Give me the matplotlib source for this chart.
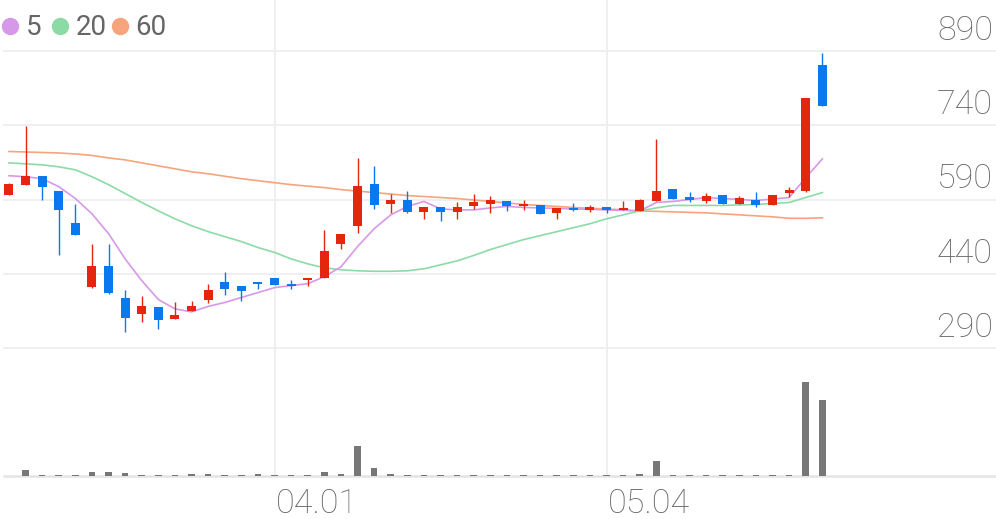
import numpy as np
import matplotlib
matplotlib.use("Agg")
import matplotlib.pyplot as plt
from matplotlib.lines import Line2D

plt.rcParams['font.family'] = ['Roboto', 'DejaVu Sans']

# daily candles, oldest first
opens = [600, 620, 637, 608, 543, 414, 456, 391, 359, 373,
         349, 365, 387, 424, 416, 424, 432, 420, 428, 432,
         501, 537, 622, 580, 590, 564, 574, 564, 576, 580,
         586, 576, 578, 562, 572, 568, 574, 568, 566, 586,
         612, 596, 586, 600, 580, 590, 578, 604, 608, 862]
highs = [623, 738, 637, 608, 580, 501, 501, 408, 395, 373,
         383, 385, 420, 444, 416, 424, 432, 428, 432, 529,
         521, 673, 657, 602, 608, 574, 574, 584, 602, 598,
         586, 588, 578, 572, 582, 578, 574, 586, 592, 712,
         612, 606, 604, 600, 598, 606, 600, 616, 795, 886]
lows = [599, 620, 590, 478, 519, 412, 399, 322, 343, 329,
        349, 365, 381, 397, 385, 410, 418, 410, 416, 432,
        491, 523, 570, 562, 562, 551, 547, 551, 570, 562,
        566, 568, 560, 551, 566, 564, 562, 568, 566, 586,
        592, 584, 582, 580, 580, 574, 578, 596, 606, 779]
closes = [622, 637, 616, 568, 519, 456, 401, 351, 375, 347,
          357, 375, 408, 410, 406, 420, 418, 416, 432, 485,
          521, 618, 578, 590, 564, 574, 564, 574, 584, 588,
          576, 580, 560, 572, 568, 574, 568, 572, 588, 608,
          592, 588, 598, 580, 594, 578, 600, 610, 795, 779]
volumes = [0, 60, 10, 10, 15, 43, 40, 33, 10, 10,
           10, 20, 20, 15, 10, 20, 10, 10, 10, 43,
           20, 300, 83, 20, 10, 10, 15, 10, 10, 10,
           10, 10, 10, 10, 10, 10, 10, 10, 20, 150,
           15, 10, 10, 10, 10, 10, 10, 10, 940, 760]

ma5 = [638, 636, 632, 616, 592, 561, 521, 470, 426, 388,
       369, 363, 374, 382, 392, 402, 412, 416, 420, 434,
       454, 495, 531, 559, 576, 586, 571, 569, 569, 573,
       576, 574, 573, 572, 571, 570, 569, 568, 567, 584,
       586, 590, 594, 592, 590, 588, 591, 594, 634, 672]
ma20 = [664, 662, 660, 656, 650, 636, 620, 602, 584, 567,
        551, 537, 525, 515, 505, 493, 483, 470, 460, 452,
        448, 446, 445, 445, 446, 450, 458, 466, 477, 489,
        499, 509, 517, 525, 533, 541, 551, 559, 567, 573,
        578, 578, 578, 578, 579, 580, 582, 584, 594, 604]
ma60 = [687, 686, 685, 684, 682, 679, 674, 670, 664, 658,
        652, 646, 642, 637, 632, 628, 624, 620, 617, 614,
        610, 607, 604, 601, 598, 596, 594, 592, 589, 586,
        583, 580, 578, 576, 574, 572, 571, 569, 567, 566,
        565, 564, 563, 561, 559, 557, 555, 552, 552, 553]

price_ticks = [890, 740, 590, 440, 290]
date_pos = [16, 36]
date_labels = ['04.01', '05.04']
ma_names = ['5', '20', '60']
ma_colors = ['#d898e8', '#8cdba6', '#f6a47c']

UP = '#e3260d'
DOWN = '#0a78ee'
GRID = '#eeeeee'
TXT = '#666666'

W, H = 996, 519
fig = plt.figure(figsize=(W / 100, H / 100), dpi=100)
ax = fig.add_axes([4 / W, 1 - 348 / H, 992 / W, 348 / H])
axv = fig.add_axes([4 / W, 1 - 476 / H, 992 / W, 128 / H])

x = np.arange(len(opens))
o = np.array(opens)
c = np.array(closes)
xlim = (-0.3, 59.46)

# grid
for v in price_ticks:
    ax.axhline(v, color=GRID, lw=1.3, zorder=0, clip_on=False)
for p in date_pos:
    ax.axvline(p, color=GRID, lw=1.3, zorder=0)
    axv.axvline(p, color=GRID, lw=1.3, zorder=0)

# moving averages
for vals, col in zip([ma60, ma20, ma5], ma_colors[::-1]):
    ax.plot(x, vals, color=col, lw=1.2, zorder=2)

# candles
cols = [UP if cc >= oo else DOWN for oo, cc in zip(o, c)]
ax.vlines(x, lows, highs, colors=cols, lw=1.0, zorder=3)
body = np.maximum(np.abs(c - o), 3)
ax.bar(x, body, bottom=np.minimum(o, c), width=0.54, color=cols, lw=0, zorder=4)

ax.set_xlim(*xlim)
ax.set_ylim(290, 290 + 348 * 150 / 74.25)
ax.axis('off')

for v in price_ticks:
    ax.annotate(str(v), xy=(1, v), xycoords=('axes fraction', 'data'),
                xytext=(-3, 11), textcoords='offset pixels', ha='right',
                va='baseline', fontsize=24.5, color=TXT, fontweight='light')

# volume
axv.bar(x, volumes, width=0.4, color='#777777', lw=0, zorder=2)
axv.axhline(0, color='#e4e4e4', lw=1.8, clip_on=False, zorder=1)
axv.set_xlim(*xlim)
axv.set_ylim(0, 1280)
axv.axis('off')

for p, lbl in zip(date_pos, date_labels):
    axv.annotate(lbl, xy=(p, 0), xycoords=('data', 'axes fraction'),
                 xytext=(1, -37), textcoords='offset pixels', ha='left',
                 va='baseline', fontsize=24.5, color=TXT, fontweight='light')

# legend
for px, tx, name, col in zip([10, 60, 120], [26, 76, 135], ma_names, ma_colors):
    fig.add_artist(Line2D([px / W], [1 - 26 / H], marker='o', markersize=11.5,
                          color=col, lw=0, transform=fig.transFigure))
    fig.text(tx / W, 1 - 35 / H, name, ha='left', va='baseline', fontsize=20,
             color=TXT)

fig.savefig('out.png', dpi=100)
